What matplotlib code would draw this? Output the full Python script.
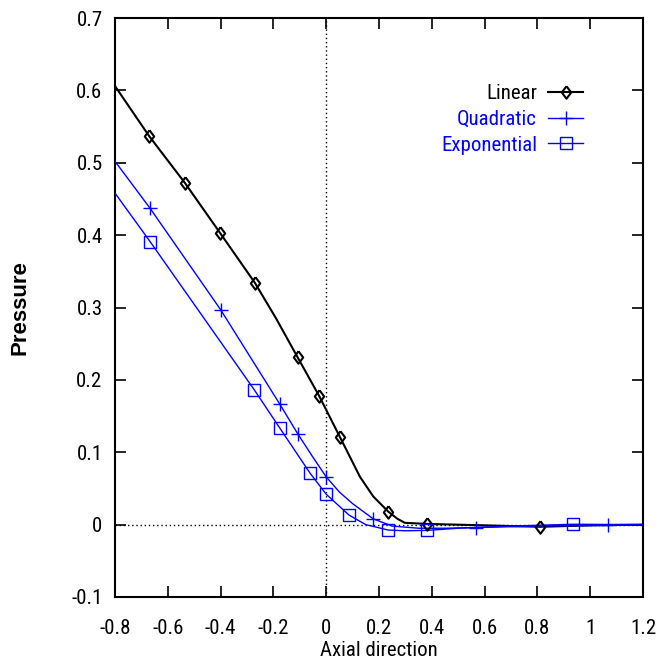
import matplotlib
matplotlib.use("Agg")
import matplotlib.pyplot as plt
from matplotlib import font_manager

# ---------------- data ----------------
# Linear (black) curve and markers
lin_x = [-0.8, -0.671, -0.535, -0.402, -0.27, -0.19, -0.108, -0.027, 0.052, 0.128, 0.178, 0.235, 0.27, 0.298, 0.38, 0.6, 0.81, 1.0, 1.2]
lin_y = [0.606, 0.537, 0.472, 0.403, 0.334, 0.285, 0.231, 0.178, 0.121, 0.066, 0.039, 0.018, 0.008, 0.0025, 0.001, -0.001, -0.003, -0.001, 0.0]
lin_mx = [-0.671, -0.535, -0.402, -0.27, -0.108, -0.027, 0.052, 0.235, 0.38, 0.81]
lin_my = [0.537, 0.472, 0.403, 0.334, 0.231, 0.178, 0.121, 0.018, 0.001, -0.003]

# Quadratic (blue, plus)
quad_x = [-0.8, -0.667, -0.4, -0.175, -0.107, -0.05, 0.0, 0.05, 0.1, 0.178, 0.25, 0.35, 0.45, 0.567, 0.8, 1.069, 1.2]
quad_y = [0.502, 0.437, 0.297, 0.166, 0.125, 0.093, 0.066, 0.045, 0.029, 0.008, -0.002, -0.005, -0.005, -0.004, -0.002, -0.001, 0.0]
quad_mx = [-0.667, -0.4, -0.175, -0.107, 0.0, 0.178, 0.567, 1.069]
quad_my = [0.437, 0.297, 0.166, 0.125, 0.066, 0.008, -0.004, -0.001]

# Exponential (blue, square)
exp_x = [-0.8, -0.667, -0.272, -0.175, -0.061, 0.0, 0.087, 0.15, 0.235, 0.3, 0.38, 0.5, 0.7, 0.934, 1.2]
exp_y = [0.458, 0.391, 0.186, 0.133, 0.071, 0.042, 0.013, 0.0, -0.0075, -0.0085, -0.008, -0.005, -0.002, 0.0005, 0.0]
exp_mx = [-0.667, -0.272, -0.175, -0.061, 0.0, 0.087, 0.235, 0.38, 0.934]
exp_my = [0.391, 0.186, 0.133, 0.071, 0.042, 0.013, -0.0075, -0.008, 0.0005]

series_labels = ["Linear", "Quadratic", "Exponential"]
x_ticks = [-0.8, -0.6, -0.4, -0.2, 0, 0.2, 0.4, 0.6, 0.8, 1, 1.2]
x_tick_labels = ["-0.8", "-0.6", "-0.4", "-0.2", "0", "0.2", "0.4", "0.6", "0.8", "1", "1.2"]
y_ticks = [-0.1, 0, 0.1, 0.2, 0.3, 0.4, 0.5, 0.6, 0.7]
y_tick_labels = ["-0.1", "0", "0.1", "0.2", "0.3", "0.4", "0.5", "0.6", "0.7"]

# ---------------- style ----------------
names = {f.name for f in font_manager.fontManager.ttflist}
fam = next((n for n in ["Roboto Condensed", "Archivo Narrow", "PT Sans Narrow", "Liberation Sans"] if n in names), "DejaVu Sans")
plt.rcParams['font.family'] = [fam, 'DejaVu Sans']

FS = 15
fig = plt.figure(figsize=(6.6, 6.66), dpi=100)
ax = fig.add_axes([115/660, 69/666, 528/660, 579/666])

BLUE = "#0000ff"
diamond = [(0, 1), (0.75, 0), (0, -1), (-0.75, 0), (0, 1)]

ax.axhline(0, color='black', lw=1, ls=(0, (1, 2)), zorder=1)
ax.axvline(0, color='black', lw=1, ls=(0, (1, 2)), zorder=1)

ax.plot(lin_x, lin_y, color='black', lw=1.5, zorder=3)
ax.plot(lin_mx, lin_my, ls='none', marker=diamond, ms=9, mfc='none', mec='black', mew=1.5, zorder=4)
ax.plot(quad_x, quad_y, color=BLUE, lw=1, zorder=3)
ax.plot(quad_mx, quad_my, ls='none', marker='+', ms=10, mec=BLUE, mew=1, zorder=4)
ax.plot(exp_x, exp_y, color=BLUE, lw=1, zorder=3)
ax.plot(exp_mx, exp_my, ls='none', marker='s', ms=8, mfc='none', mec=BLUE, mew=1, zorder=4)

# legend handles
h1, = ax.plot([], [], color='black', lw=1.5, marker=diamond, ms=9, mfc='none', mew=1.5)
h2, = ax.plot([], [], color=BLUE, lw=1, marker='+', ms=10, mew=1)
h3, = ax.plot([], [], color=BLUE, lw=1, marker='s', ms=8, mfc='none', mew=1)
leg = ax.legend([h1, h2, h3], series_labels, loc='upper right',
                bbox_to_anchor=((583 - 115) / 528, (597 - 84) / 579),
                frameon=False, markerfirst=False, fontsize=FS, handlelength=1.68,
                handletextpad=0.53, labelspacing=0.33, borderpad=0, borderaxespad=0)
for t, c in zip(leg.get_texts(), ['black', BLUE, BLUE]):
    t.set_color(c)

ax.set_xlim(-0.8, 1.2)
ax.set_ylim(-0.1, 0.7)
ax.set_xticks(x_ticks)
ax.set_xticklabels(x_tick_labels)
ax.set_yticks(y_ticks)
ax.set_yticklabels(y_tick_labels)
ax.tick_params(direction='in', length=8, width=1.2, top=True, right=True, labelsize=FS)
ax.tick_params(axis='x', pad=16)
ax.tick_params(axis='y', pad=9)
for s in ax.spines.values():
    s.set_linewidth(1.5)

ax.set_xlabel("Axial direction", fontsize=FS)
ax.xaxis.set_label_coords(0.5, (597 - 641) / 579)
ax.set_ylabel("Pressure", fontsize=16, fontweight='bold', va='center',
              family=['Liberation Sans', 'DejaVu Sans'])
ax.yaxis.set_label_coords((20 - 115) / 528, 0.5)

fig.savefig("out.png", dpi=100)
